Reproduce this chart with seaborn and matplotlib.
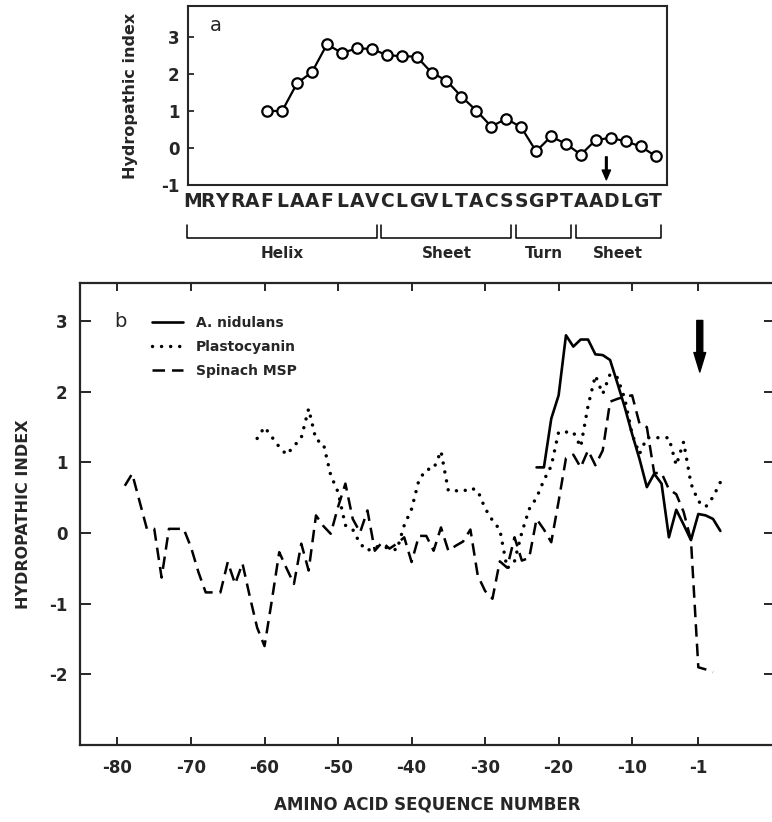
import matplotlib
matplotlib.use("Agg")
import matplotlib.pyplot as plt
import seaborn as sns

# Panel a: A. nidulans presequence, hydropathic index per residue
sequence = list("MRYRAFLAAFLAVCLGVLTACSSGPTAADLGT")
a_pos = list(range(6, 33))
a_hyd = [1.0, 1.0, 1.75, 2.05, 2.8, 2.57, 2.69, 2.68, 2.51, 2.48, 2.47, 2.04, 1.82, 1.39,
         1.01, 0.58, 0.79, 0.56, -0.09, 0.31, 0.11, -0.18, 0.22, 0.27, 0.18, 0.04, -0.22]
struct_names = ["Helix", "Sheet", "Turn", "Sheet"]
struct_start = [1, 14, 23, 27]
struct_end = [13, 22, 26, 32]
a_cleavage = 28.7

# Panel b: three presequences, numbered from the cleavage site
nid_pos = list(range(-23, 3))
nid_hyd = [0.93, 0.93, 1.62, 1.95, 2.8, 2.64, 2.74, 2.74, 2.53, 2.52, 2.45, 2.12, 1.78,
           1.40, 1.05, 0.65, 0.84, 0.70, -0.06, 0.33, 0.12, -0.10, 0.27, 0.25, 0.20, 0.03]
pc_pos = list(range(-61, 3))
pc_hyd = [1.34, 1.50, 1.36, 1.22, 1.11, 1.23, 1.35, 1.76, 1.32, 1.27,
          0.82, 0.58, 0.11, 0.05, -0.15, -0.25, -0.19, -0.20, -0.21, -0.24,
          0.11, 0.34, 0.75, 0.90, 0.91, 1.16, 0.60, 0.60, 0.59, 0.64,
          0.60, 0.35, 0.18, 0.05, -0.50, -0.40, 0.01, 0.34, 0.50, 0.75,
          0.95, 1.43, 1.43, 1.43, 1.22, 1.80, 2.23, 1.97, 2.25, 2.20,
          1.90, 1.40, 1.12, 1.35, 1.35, 1.35, 1.35, 0.96, 1.29, 0.70,
          0.45, 0.37, 0.51, 0.72]
msp_pos = list(range(-79, 2))
msp_hyd = [0.67, 0.84, 0.45, 0.06, 0.06, -0.63, 0.06, 0.06, 0.06, -0.20,
           -0.55, -0.84, -0.84, -0.84, -0.41, -0.72, -0.43, -0.90, -1.34, -1.60,
           -0.95, -0.27, -0.50, -0.72, -0.15, -0.53, 0.25, 0.10, -0.01, 0.37,
           0.70, 0.20, 0.01, 0.32, -0.25, -0.13, -0.22, -0.15, -0.06, -0.41,
           -0.04, -0.04, -0.25, 0.08, -0.25, -0.18, -0.12, 0.05, -0.60, -0.82,
           -0.93, -0.40, -0.49, -0.06, -0.39, -0.35, 0.20, 0.05, -0.13, 0.45,
           1.06, 1.11, 0.93, 1.17, 0.96, 1.17, 1.86, 1.90, 1.93, 1.95,
           1.55, 1.50, 0.85, 0.85, 0.62, 0.55, 0.30, -0.10, -1.90, -1.93, -1.97]
b_xticks = [-80, -70, -60, -50, -40, -30, -20, -10, -1]
b_yticks = [-2, -1, 0, 1, 2, 3]
a_yticks = [-1, 0, 1, 2, 3]

sns.set_style("ticks")
plt.rcParams['font.family'] = ['DejaVu Sans']
plt.rcParams['axes.unicode_minus'] = False

fig = plt.figure(figsize=(7.72, 8.22), dpi=100)

# ---------------- panel a ----------------
ax_a = fig.add_axes([0.2435, 0.775, 0.6205, 0.2178])
sns.lineplot(x=a_pos, y=a_hyd, ax=ax_a, color="black", lw=1.6, marker="o",
             markersize=7.5, markerfacecolor="white", markeredgecolor="black",
             markeredgewidth=1.6)
ax_a.set_xlim(0.7, 32.76)
ax_a.set_ylim(-1, 3.84)
ax_a.set_xticks(range(1, len(sequence) + 1))
ax_a.set_xticklabels(sequence, fontsize=13.5, fontweight="bold")
ax_a.set_yticks(a_yticks)
ax_a.set_yticklabels([str(v) for v in a_yticks], fontsize=12, fontweight="bold")
ax_a.tick_params(axis="x", length=0, pad=5)
ax_a.tick_params(axis="y", direction="in", length=4, width=1.3, pad=6)
for s in ax_a.spines.values():
    s.set_linewidth(1.5)
ax_a.set_ylabel("Hydropathic index", fontsize=11.5, fontweight="bold")
ax_a.yaxis.set_label_coords(-0.104, 0.5)
ax_a.text(0.046, 0.89, "a", transform=ax_a.transAxes, fontsize=14, va="center")
ax_a.annotate("", xy=(a_cleavage, -0.86), xytext=(a_cleavage, -0.24),
              arrowprops=dict(width=1.2, headwidth=6, headlength=7, shrink=0,
                              facecolor="black", edgecolor="black"))

# secondary structure brackets under the sequence
trans = ax_a.get_xaxis_transform()
for name, s0, s1 in zip(struct_names, struct_start, struct_end):
    x0, x1 = s0 - 0.35, s1 + 0.35
    ax_a.plot([x0, x0, x1, x1], [-0.2235, -0.296, -0.296, -0.2235], color="black",
              lw=1.1, transform=trans, clip_on=False)
    ax_a.text((x0 + x1) / 2, -0.385, name, transform=trans, ha="center", va="center",
              fontsize=11, fontweight="bold")

# ---------------- panel b ----------------
ax_b = fig.add_axes([0.1036, 0.0937, 0.9, 0.562])
sns.lineplot(x=msp_pos, y=msp_hyd, ax=ax_b, color="black", lw=1.8,
             linestyle=(0, (5, 2.8)), label="Spinach MSP")
sns.lineplot(x=pc_pos, y=pc_hyd, ax=ax_b, color="black", lw=2.5,
             linestyle=(0, (0.01, 2.6)), dash_capstyle="round", label="Plastocyanin")
sns.lineplot(x=nid_pos, y=nid_hyd, ax=ax_b, color="black", lw=1.9,
             label="A. nidulans")
handles, labels = ax_b.get_legend_handles_labels()
order = [2, 1, 0]
ax_b.legend([handles[i] for i in order], [labels[i] for i in order],
            loc="upper left", bbox_to_anchor=(0.085, 0.955), frameon=False,
            handlelength=2.3, handletextpad=0.9, labelspacing=0.7,
            prop=dict(weight="bold", size=10))
ax_b.set_xlim(-85.1, 9.4)
ax_b.set_ylim(-3, 3.54)
ax_b.set_xticks(b_xticks)
ax_b.set_xticklabels([str(v) for v in b_xticks], fontsize=12, fontweight="bold")
ax_b.set_yticks(b_yticks)
ax_b.set_yticklabels([str(v) for v in b_yticks], fontsize=12, fontweight="bold")
ax_b.tick_params(axis="both", direction="in", top=True, right=True, width=1.4)
ax_b.tick_params(axis="x", length=6, pad=10)
ax_b.tick_params(axis="y", length=8, pad=9)
for s in ax_b.spines.values():
    s.set_linewidth(1.6)
ax_b.set_xlabel("AMINO ACID SEQUENCE NUMBER", fontsize=12, fontweight="bold")
ax_b.xaxis.set_label_coords(0.5, -0.11)
ax_b.set_ylabel("HYDROPATHIC INDEX", fontsize=11.5, fontweight="bold")
ax_b.yaxis.set_label_coords(-0.07, 0.5)
ax_b.text(0.05, 0.916, "b", transform=ax_b.transAxes, fontsize=14, va="center")
ax_b.annotate("", xy=(-0.8, 2.28), xytext=(-0.8, 3.01),
              arrowprops=dict(width=4.3, headwidth=8.5, headlength=14, shrink=0,
                              facecolor="black", edgecolor="black"))

fig.savefig("out.png", dpi=100)
